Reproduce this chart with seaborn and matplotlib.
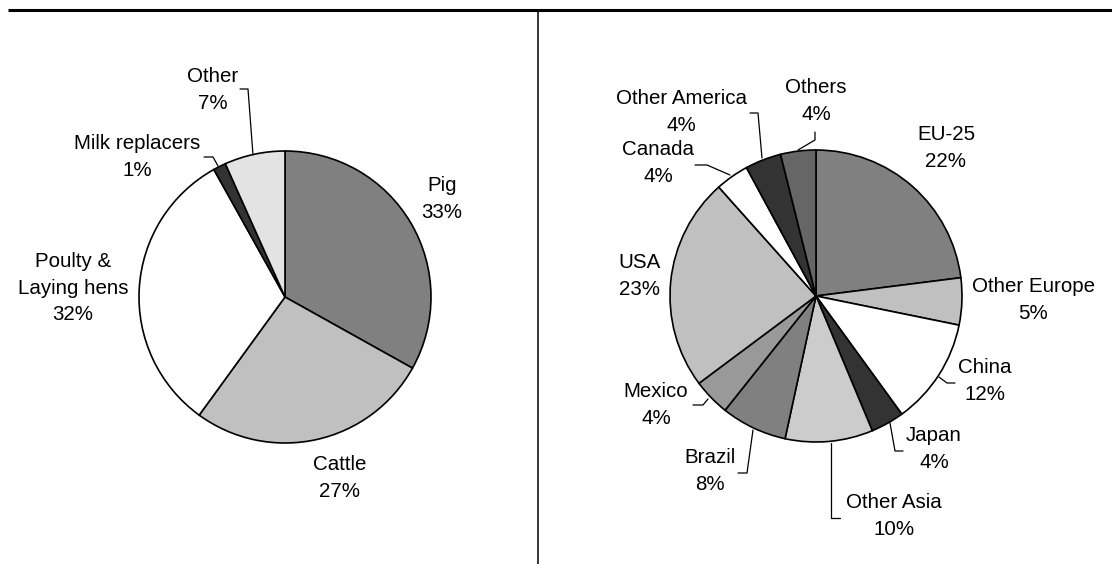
import matplotlib
matplotlib.use("Agg")
import matplotlib.pyplot as plt
import seaborn as sns

sns.set_theme(style="white")
plt.rcParams["font.family"] = ["Liberation Sans", "DejaVu Sans"]

W, H = 1112, 564

# left pie: use of compound feed by animal type
feed_labels = ["Pig", "Cattle", "Poulty &\nLaying hens", "Milk replacers", "Other"]
feed_pct = ["33%", "27%", "32%", "1%", "7%"]
feed_share = [33.1, 26.9, 31.9, 1.4, 6.7]
feed_colors = ["#808080", "#c0c0c0", "#ffffff", "#333333", "#e3e3e3"]

# right pie: production by region
region_labels = ["EU-25", "Other Europe", "China", "Japan", "Other Asia", "Brazil",
                 "Mexico", "USA", "Canada", "Other America", "Others"]
region_pct = ["22%", "5%", "12%", "4%", "10%", "8%", "4%", "23%", "4%", "4%", "4%"]
region_share = [23.0, 5.2, 11.8, 3.7, 9.7, 7.3, 4.1, 23.6, 3.7, 4.0, 3.9]
region_colors = ["#808080", "#c0c0c0", "#ffffff", "#333333", "#cccccc", "#808080",
                 "#999999", "#c0c0c0", "#ffffff", "#333333", "#666666"]

# layout (pixel coords, y from top)
feed_text_pos = [(442, 199), (340, 478), (73, 288), (137, 157), (213, 90)]
region_text_pos = [(946, 148), (1033, 300), (985, 381), (934, 449), (894, 516), (710, 471),
                   (656, 405), (639, 276), (658, 163), (681, 112), (816, 101)]
leaders = [
    [(240, 89), (248, 89), (253, 155)],
    [(204, 157), (213, 157), (218, 166)],
    [(815, 132), (815, 140), (798, 150)],
    [(750, 113), (758, 113), (762, 158)],
    [(695, 165), (707, 165), (730, 175)],
    [(939, 377), (947, 383), (955, 383)],
    [(890, 423), (895, 451), (903, 451)],
    [(831, 443), (831, 518), (840, 518)],
    [(753, 430), (747, 473), (738, 473)],
    [(708, 399), (703, 405), (693, 405)],
]


def px(x, y):
    return x, H - y


fig = plt.figure(figsize=(W / 100, H / 100), dpi=100)
ax = fig.add_axes([0, 0, 1, 1])

wp = dict(edgecolor="black", linewidth=1.2)
ax.pie(feed_share, colors=feed_colors, startangle=90, counterclock=False,
       center=px(285, 297), radius=146, wedgeprops=wp)
ax.pie(region_share, colors=region_colors, startangle=90, counterclock=False,
       center=px(816, 296), radius=146, wedgeprops=wp)

for lab, pct, pos in zip(feed_labels + region_labels, feed_pct + region_pct,
                         feed_text_pos + region_text_pos):
    ax.text(*px(*pos), f"{lab}\n{pct}", ha="center", va="center",
            fontsize=14.8, linespacing=1.5, color="black")

for pts in leaders:
    xs, ys = zip(*[px(*p) for p in pts])
    ax.plot(xs, ys, color="black", lw=0.9)

# frame lines
ax.plot([8, W], [H - 10, H - 10], color="black", lw=2.2, solid_capstyle="butt")
ax.plot([538, 538], [H - 10, 0], color="black", lw=1.1)

ax.set_xlim(0, W)
ax.set_ylim(0, H)
ax.set_aspect("equal")
ax.axis("off")

fig.savefig("out.png", dpi=100)
